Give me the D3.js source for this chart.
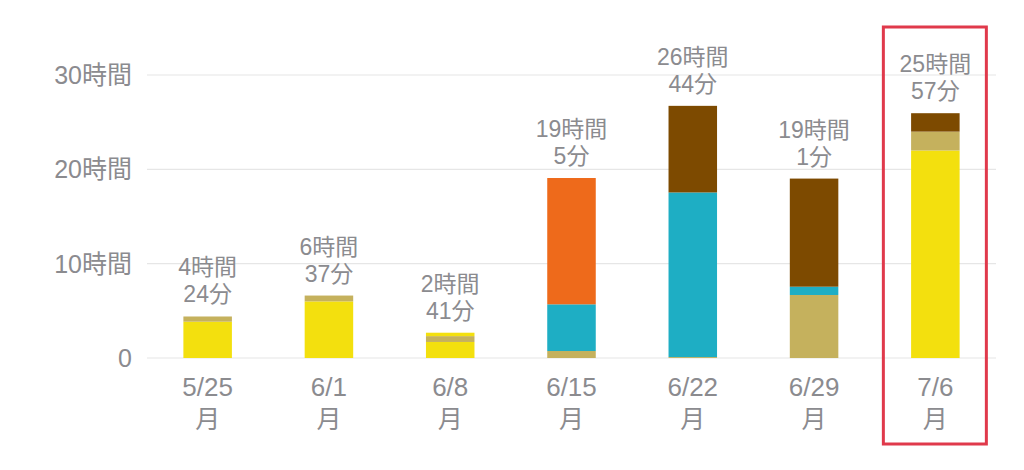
<!DOCTYPE html>
<html><head><meta charset="utf-8">
<script src="https://cdn.jsdelivr.net/npm/d3@7"></script>
<style>
html,body{margin:0;padding:0;background:#fff;}
svg{display:block;}
text{font-family:"Liberation Sans","Noto Sans CJK JP",sans-serif;fill:#8b8b8f;}
</style></head>
<body>
<svg id="chart" width="1024" height="470"></svg>
<script>
const dates = ["5/25","6/1","6/8","6/15","6/22","6/29","7/6"];
const weekday = ["月","月","月","月","月","月","月"];
const seriesKeys = ["yellow","tan","yellow2","teal","orange","brown"];
const yellow  = [3.85, 6.0, 1.70, 0,    0,     0,     22.0];
const tan     = [0.55, 0.62,0.62, 0.74, 0.10,  6.68,  2.0];
const yellow2 = [0,    0,   0.36, 0,    0,     0,     0];
const teal    = [0,    0,   0,    4.95, 17.45, 0.88,  0];
const orange  = [0,    0,   0,    13.39,0,     0,     0];
const brown   = [0,    0,   0,    0,    9.18,  11.46, 1.95];
const hourLabels = ["4時間","6時間","2時間","19時間","26時間","19時間","25時間"];
const minLabels  = ["24分","37分","41分","5分","44分","1分","57分"];
const yTicks = [0,10,20,30];
const yTickLabels = ["0","10時間","20時間","30時間"];
const colors = {yellow:"#F3E00E",tan:"#C5B15D",yellow2:"#F3E00E",teal:"#1EAEC4",orange:"#EE6A1B",brown:"#7D4A00"};

const rows = dates.map((d,i)=>({date:d,yellow:yellow[i],tan:tan[i],yellow2:yellow2[i],teal:teal[i],orange:orange[i],brown:brown[i]}));
const svg = d3.select("#chart");
const x = d3.scaleBand().domain(dates).range([147,996]).paddingInner(0.6).paddingOuter(0.3);
const y = d3.scaleLinear().domain([0,30]).range([358,75]);

// gridlines
svg.append("g").selectAll("line").data(yTicks).join("line")
  .attr("x1",147).attr("x2",996)
  .attr("y1",d=>y(d)).attr("y2",d=>y(d))
  .attr("stroke","#e6e6e6").attr("stroke-width",1.2);

// y labels
svg.append("g").selectAll("text").data(yTicks).join("text")
  .attr("x",132).attr("y",d=>y(d)).attr("dy","0.36em")
  .attr("text-anchor","end").attr("font-size",25)
  .text((d,i)=>yTickLabels[i]);

const stack = d3.stack().keys(seriesKeys)(rows);
svg.append("g").selectAll("g").data(stack).join("g")
  .attr("fill",s=>colors[s.key])
  .selectAll("rect").data(s=>s).join("rect")
  .attr("x",d=>x(d.data.date)).attr("width",x.bandwidth())
  .attr("y",d=>y(d[1])).attr("height",d=>y(d[0])-y(d[1]));

// value labels
const totals = rows.map(r=>seriesKeys.reduce((a,k)=>a+r[k],0));
const vl = svg.append("g");
dates.forEach((d,i)=>{
  const cx = x(d)+x.bandwidth()/2;
  const top = y(totals[i]);
  vl.append("text").attr("x",cx).attr("y",top-41).attr("text-anchor","middle").attr("font-size",23).text(hourLabels[i]);
  vl.append("text").attr("x",cx).attr("y",top-14).attr("text-anchor","middle").attr("font-size",23).text(minLabels[i]);
});

// x labels
const xl = svg.append("g");
dates.forEach((d,i)=>{
  const cx = x(d)+x.bandwidth()/2;
  xl.append("text").attr("x",cx).attr("y",396).attr("text-anchor","middle").attr("font-size",26).text(d);
  xl.append("text").attr("x",cx).attr("y",428).attr("text-anchor","middle").attr("font-size",25).text(weekday[i]);
});

// highlight box around last week
const last = dates[dates.length-1];
const bx = x(last)+x.bandwidth()/2;
svg.append("rect").attr("x",bx-52).attr("y",27).attr("width",103).attr("height",417)
  .attr("fill","none").attr("stroke","#E0394B").attr("stroke-width",3);
</script>
</body></html>
